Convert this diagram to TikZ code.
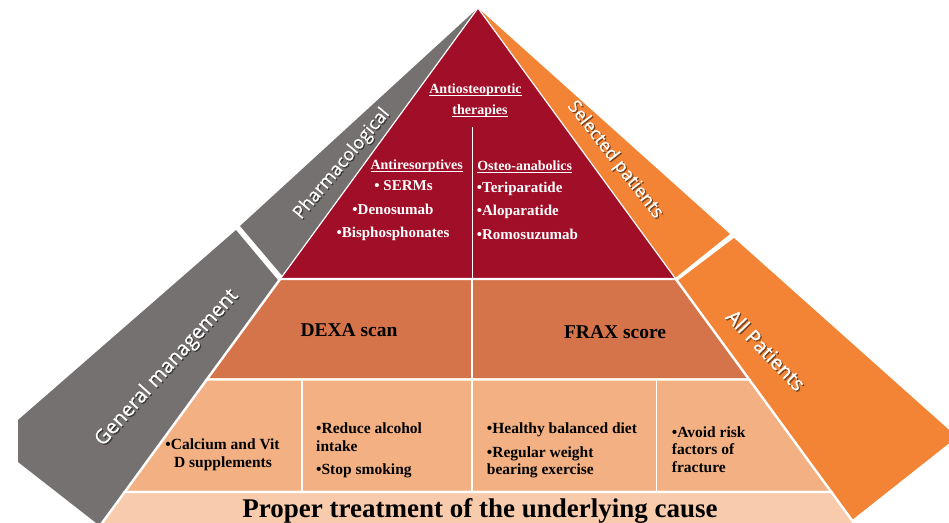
\documentclass[tikz,border=0pt]{standalone}
\usepackage{fontspec}
\setmainfont{Liberation Serif}
\newfontfamily\labelfont[FakeBold=0.8]{Open Sans}
\newcommand{\myul}[1]{\setbox0=\hbox{#1}\rlap{\rule[-2.4pt]{\wd0}{0.9pt}}\box0}
\definecolor{pgray}{RGB}{118,113,113}
\definecolor{porange}{RGB}{243,132,53}
\definecolor{pred}{RGB}{161,14,39}
\definecolor{pdexa}{RGB}{213,116,74}
\definecolor{plife}{RGB}{243,177,131}
\definecolor{pban}{RGB}{248,203,173}
\begin{document}
\begin{tikzpicture}[x=1pt,y=-1pt,
  tier/.style={draw=white, line width=2.4pt, line join=miter},
  sepline/.style={draw=white, line width=1.8pt},
  whead/.style={text=white, inner sep=0pt, font=\bfseries\fontsize{14}{17}\selectfont},
  witem/.style={text=white, inner sep=0pt, font=\bfseries\fontsize{15}{18}\selectfont},
  bitem/.style={text=black, inner sep=0pt, font=\bfseries\fontsize{15.5}{18}\selectfont},
  bmid/.style={text=black, inner sep=0pt, font=\bfseries\fontsize{19.5}{22}\selectfont},
  bbig/.style={text=black, inner sep=0pt, font=\bfseries\fontsize{27}{30}\selectfont},
  slab/.style={text=white, inner sep=0pt, font=\labelfont\fontsize{#1}{#1}\selectfont},
  sshadow/.style={text=black, text opacity=0.45, inner sep=0pt, font=\labelfont\fontsize{#1}{#1}\selectfont}
]
\useasboundingbox (0,0) rectangle (949,522);
\clip (0,0) rectangle (949,522);

% side bands
\fill[pgray] (478,8) -- (240,226) -- (282.4,276) -- cycle;
\fill[pgray] (236,230) -- (18,420) -- (18,462) -- (100,526) -- (278.7,281) -- cycle;
\fill[porange] (478,8) -- (730,234) -- (675.1,278) -- cycle;
\fill[porange] (734,238) -- (957,437) -- (852,520) -- (677.3,281) -- cycle;

% pyramid tiers
\filldraw[tier, fill=pred, line width=1.2pt] (478,8) -- (280.2,279) -- (675.8,279) -- cycle;
\filldraw[tier, fill=pdexa] (280.2,279) -- (675.8,279) -- (749.2,379.5) -- (206.8,379.5) -- cycle;
\filldraw[tier, fill=plife] (206.8,379.5) -- (749.2,379.5) -- (831.3,492) -- (124.7,492) -- cycle;
\filldraw[tier, fill=pban] (124.7,492) -- (831.3,492) -- (866.4,540) -- (89.6,540) -- cycle;

% inner dividers
\draw[white, line width=1pt] (472,127) -- (472,279);
\draw[sepline] (472,279) -- (472,379.5);
\draw[sepline] (302,379.5) -- (302,492);
\draw[sepline] (472,379.5) -- (472,492);
\draw[sepline] (656.5,379.5) -- (656.5,492);

% red tier texts
\node[whead, anchor=mid] (ttl1) at (475.5,90.8) {\myul{Antiosteoprotic}};
\node[whead, anchor=mid] (ttl2) at (480,112.5) {\myul{therapies}};
\node[whead, anchor=mid] (antir) at (416.7,167.2) {\myul{Antiresorptives}};
\node[whead, anchor=mid] (osteo) at (524.7,168.2) {\myul{Osteo-anabolics}};
\node[witem, anchor=mid] (serm) at (403.5,188.2) {• SERMs};
\node[witem, anchor=mid] (deno) at (393,212.2) {•Denosumab};
\node[witem, anchor=mid] (bisph) at (393,235.5) {•Bisphosphonates};
\node[witem, anchor=mid west] (teri) at (476.7,190.5) {•Teriparatide};
\node[witem, anchor=mid west] (alop) at (476.7,213.5) {•Aloparatide};
\node[witem, anchor=mid west] (romo) at (476.7,237.5) {•Romosuzumab};

% middle tier
\node[bmid, anchor=base] (dexa) at (349,336) {DEXA scan};
\node[bmid, anchor=base] (frax) at (615,338) {FRAX score};

% lifestyle tier
\node[bitem, anchor=mid] (calc1) at (222.5,447.5) {•Calcium and Vit};
\node[bitem, anchor=mid] (calc2) at (223,464.8) {D supplements};
\node[bitem, anchor=mid west] (alc1) at (316,431.5) {•Reduce alcohol};
\node[bitem, anchor=mid west] (alc2) at (316,448.8) {intake};
\node[bitem, anchor=mid west] (smok) at (316,472.2) {•Stop smoking};
\node[bitem, anchor=mid west] (diet) at (486.7,431.5) {•Healthy balanced diet};
\node[bitem, anchor=mid west] (reg1) at (486.7,454.8) {•Regular weight};
\node[bitem, anchor=mid west] (reg2) at (486.7,472.2) {bearing exercise};
\node[bitem, anchor=mid west] (avd1) at (671.7,434.8) {•Avoid risk};
\node[bitem, anchor=mid west] (avd2) at (671.7,452.5) {factors of};
\node[bitem, anchor=mid west] (avd3) at (671.7,469.8) {fracture};

% banner
\node[bbig, anchor=base] (cause) at (480,517.7) {Proper treatment of the underlying cause};

% slanted side labels (with soft shadow)
\node[sshadow=18, rotate=50] (pharmS) at (343.2,165.2) {Pharmacological};
\node[slab=18, rotate=50] (pharm) at (342,164) {Pharmacological};
\node[sshadow=20, rotate=48] (genmS) at (168.2,369.2) {General management};
\node[slab=20, rotate=48] (genm) at (167,368) {General management};
\node[sshadow=18, rotate=-52] (selpS) at (616.2,161.2) {Selected patients};
\node[slab=18, rotate=-52] (selp) at (615,160) {Selected patients};
\node[sshadow=20, rotate=-46] (allpS) at (767.2,351.2) {All Patients};
\node[slab=20, rotate=-46] (allp) at (766,350) {All Patients};
\end{tikzpicture}
\end{document}
